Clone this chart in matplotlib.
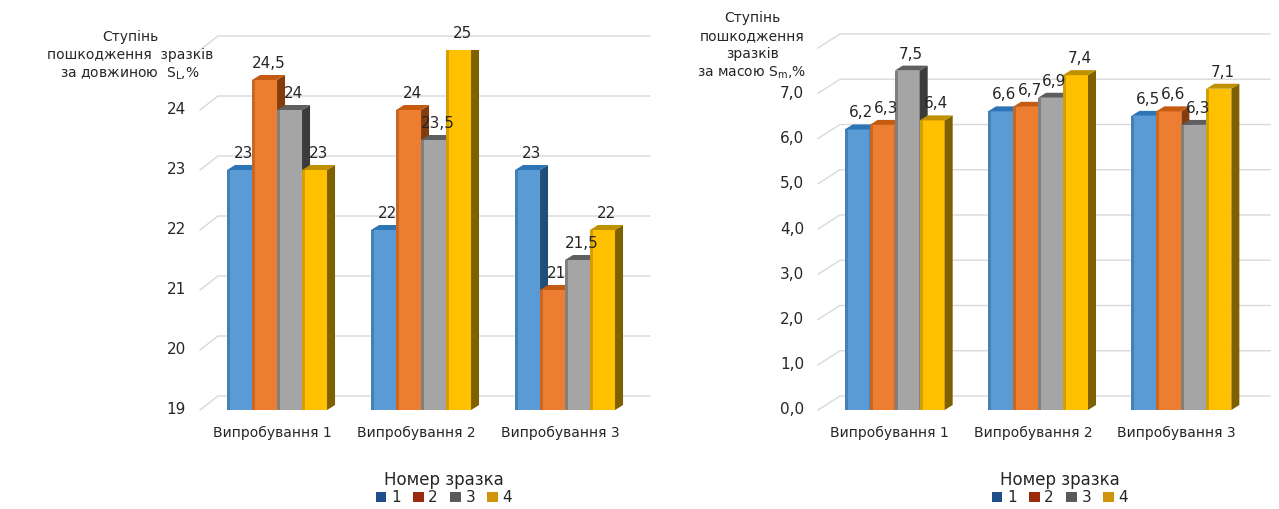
import matplotlib
matplotlib.use("Agg")
import matplotlib.pyplot as plt
from matplotlib.patches import Polygon, Patch

# ---------------- data ----------------
tests = ["Випробування 1", "Випробування 2", "Випробування 3"]
samples = ["1", "2", "3", "4"]
length_damage = [[23, 24.5, 24, 23],
                 [22, 24, 23.5, 25],
                 [23, 21, 21.5, 22]]
mass_damage = [[6.2, 6.3, 7.5, 6.4],
               [6.6, 6.7, 6.9, 7.4],
               [6.5, 6.6, 6.3, 7.1]]
left_ticks = [19, 20, 21, 22, 23, 24, 25]
right_ticks = [0, 1, 2, 3, 4, 5, 6, 7, 8]
left_title = "Ступінь\nпошкодження  зразків\nза довжиною  S$_\\mathregular{L}$,%"
right_title = "Ступінь\nпошкодження\nзразків\nза масою S$_\\mathregular{m}$,%"
legend_title = "Номер зразка"

# ---------------- style ----------------
W, H = 1279, 509
front_cols = ["#5b9bd5", "#ed7d31", "#a5a5a5", "#ffc000"]
side_cols = ["#1f4e79", "#843c0c", "#3b3b3b", "#7f6000"]
top_cols = ["#2e75b6", "#c55a11", "#5f5f5f", "#bf9000"]
legend_cols = ["#1f4e8c", "#9c2a0c", "#5a5a5a", "#d0940a"]
grid_col = "#d9d9d9"
text_col = "#262626"

plt.rcParams['font.family'] = ['DejaVu Sans']
fig = plt.figure(figsize=(W / 100, H / 100), dpi=100)
fig.patch.set_facecolor("white")


def px_axes(l, t, r, b):
    return fig.add_axes([l / W, 1 - b / H, (r - l) / W, (b - t) / H])


def fmt_left(v):
    return (f"{v:g}").replace(".", ",")


def fmt_right(v):
    return (f"{v:.1f}").replace(".", ",")


def draw_chart(ax, data, ticks, fmt_val, fmt_tick, wpx, hpx, back=(20, 14), depth=(8, 5)):
    ymin, ymax = ticks[0], ticks[-1]
    ax.set_xlim(-0.5, 2.5)
    ax.set_ylim(ymin, ymax)
    ax.axis("off")
    sx = 3.0 / wpx
    sy = (ymax - ymin) / hpx
    bx, by = back[0] * sx, back[1] * sy
    dx, dy = depth[0] * sx, depth[1] * sy
    # gridlines: slanted on the left wall, horizontal on the back wall
    for i, v in enumerate(ticks):
        ax.plot([-0.5, -0.5 + bx, 2.5 + bx], [v, v + by, v + by], color=grid_col,
                lw=1.0, zorder=0, clip_on=False)
        if i < len(ticks) - 1:
            ax.text(-0.5 - 14 * sx, v, fmt_tick(v), ha="right", va="center",
                    fontsize=11, color=text_col)
    w = 25 * sx
    for i, group in enumerate(data):
        for j, v in enumerate(group):
            x0 = i + 0.035 + (j - 2) * w
            x1 = x0 + w
            z = 2 + i * 10 + j
            ax.add_patch(Polygon([(x0, ymin), (x1, ymin), (x1, v), (x0, v)], closed=True,
                                 facecolor=front_cols[j], edgecolor="none", zorder=z))
            # subtle darker left edge to mimic shading
            ax.add_patch(Polygon([(x0, ymin), (x0 + 0.12 * w, ymin), (x0 + 0.12 * w, v), (x0, v)],
                                 closed=True, facecolor=side_cols[j], alpha=0.35,
                                 edgecolor="none", zorder=z))
            ax.add_patch(Polygon([(x1, ymin), (x1 + dx, ymin + dy), (x1 + dx, v + dy), (x1, v)],
                                 closed=True, facecolor=side_cols[j], edgecolor="none", zorder=z))
            ax.add_patch(Polygon([(x0, v), (x1, v), (x1 + dx, v + dy), (x0 + dx, v + dy)],
                                 closed=True, facecolor=top_cols[j], edgecolor="none", zorder=z))
            ax.text((x0 + x1) / 2 + dx / 2, v + dy + 4 * sy, fmt_val(v), ha="center",
                    va="bottom", fontsize=11, color=text_col, zorder=100)
    for i, t in enumerate(tests):
        ax.text(i, ymin - 23 * sy, t, ha="center", va="center", fontsize=10, color=text_col)


# left chart: front plane 200..632 px, y 50..410 px
axL = px_axes(200, 50, 632, 410)
draw_chart(axL, length_damage, left_ticks, fmt_left, lambda v: f"{v:g}", 432, 360, back=(18, 14))
# right chart: front plane 818..1248 px, y 48..410 px
axR = px_axes(818, 48, 1248, 410)
draw_chart(axR, mass_damage, right_ticks, fmt_right, fmt_right, 430, 362, back=(22, 14))

fig.text(130 / W, 1 - 56 / H, left_title, ha="center", va="center", fontsize=10,
         color=text_col, linespacing=1.35)
fig.text(752 / W, 1 - 46 / H, right_title, ha="center", va="center", fontsize=10,
         color=text_col, linespacing=1.35)

handles = [Patch(facecolor=c, edgecolor="none") for c in legend_cols]
for cx in (444, 1060):
    leg = fig.legend(handles, samples, title=legend_title, loc="center",
                     bbox_to_anchor=(cx / W, 1 - 488 / H), ncol=4, frameon=False,
                     fontsize=11, title_fontsize=12, handlelength=0.7, handleheight=0.7,
                     handletextpad=0.3, columnspacing=0.8, borderpad=0.1, labelspacing=0.1)
    for t in leg.get_texts():
        t.set_color(text_col)
    leg.get_title().set_color(text_col)

fig.savefig("out.png", dpi=100, facecolor="white")
